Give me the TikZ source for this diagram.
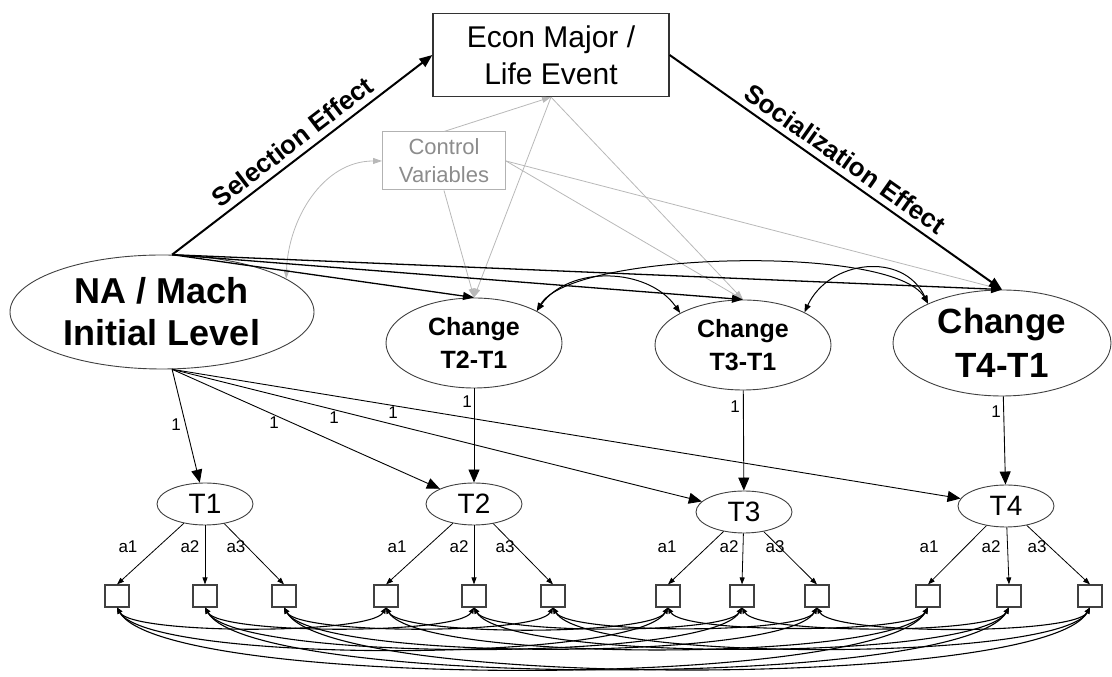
\documentclass[tikz,border=0pt]{standalone}
\usepackage{fontspec}
\setmainfont{Liberation Sans}
\usetikzlibrary{arrows.meta,shapes.geometric}

\tikzset{
  latent/.style={ellipse, draw=black!75, line width=0.9pt, inner sep=0pt, align=center},
  obs/.style={rectangle, draw=black!75, line width=1.1pt, minimum width=24pt, minimum height=22pt, inner sep=0pt},
  lab/.style={font=\fontsize{17}{19}\selectfont, inner sep=1pt},
  efflab/.style={midway, sloped, above, inner sep=6pt, font=\fontsize{26}{28}\selectfont\bfseries},
  effect/.style={line width=2pt, -{Triangle[length=13pt,width=10pt]}},
  dirpath/.style={line width=1.3pt, -{Triangle[length=11pt,width=8pt]}},
  loading/.style={line width=0.9pt, -{Triangle[length=13pt,width=11pt]}},
  ind/.style={line width=0.8pt, -{Triangle[length=7pt,width=5pt]}},
  cov/.style={line width=1pt, {Triangle[length=8pt,width=6pt]}-{Triangle[length=8pt,width=6pt]}},
  resid/.style={line width=1.1pt, {Triangle[length=6pt,width=5pt]}-{Triangle[length=6pt,width=5pt]}},
  ctrl/.style={draw=black!28, line width=0.8pt, -{Triangle[length=9pt,width=6pt]}}
}

\begin{document}
\begin{tikzpicture}[x=1pt,y=1pt]
\useasboundingbox (0,0) rectangle (1112,677);

\node (E) at (551,622) [draw=black!80, line width=1.2pt, minimum width=236pt, minimum height=83pt, align=center, font=\fontsize{30}{37}\selectfont]{Econ Major /\\Life Event};
\node (CV) at (444,516) [draw=black!30, line width=1pt, text=black!45, minimum width=123pt, minimum height=58pt, align=center, font=\fontsize{22}{28}\selectfont]{Control\\Variables};

\node (NA) at (162,365) [latent, minimum width=304pt, minimum height=114pt, font=\fontsize{36}{42}\selectfont\bfseries]{NA / Mach\\Initial Level};
\node (C-2) at (474,334) [latent, minimum width=176pt, minimum height=90pt, font=\fontsize{25}{33}\selectfont\bfseries]{Change\\T2-T1};
\node (C-3) at (743,332) [latent, minimum width=176pt, minimum height=90pt, font=\fontsize{25}{33}\selectfont\bfseries]{Change\\T3-T1};
\node (C-4) at (1002,334) [latent, minimum width=218pt, minimum height=106pt, font=\fontsize{35}{44}\selectfont\bfseries]{Change\\T4-T1};

\foreach \t/\tx/\ty/\xa/\xb/\xc in {1/205/173/117/205/284, 2/474/173/386/474/553, 3/744/165/668/742/817, 4/1006/171/928/1009/1090}{
  \node (T-\t) at (\tx,\ty) [latent, minimum width=96pt, minimum height=42pt, font=\fontsize{28}{30}\selectfont]{T\t};
  \node (I-\t-1) at (\xa,81) [obs]{};
  \node (I-\t-2) at (\xb,81) [obs]{};
  \node (I-\t-3) at (\xc,81) [obs]{};
  \draw [ind] (T-\t) -- (I-\t-1.north);
  \draw [ind] (T-\t) -- (I-\t-2.north);
  \draw [ind] (T-\t) -- (I-\t-3.north);
  \node (a-\t-1) at (\tx-77,130) [lab]{a1};
  \node (a-\t-2) at (\tx-15,130) [lab]{a2};
  \node (a-\t-3) at (\tx+31,130) [lab]{a3};
}

\foreach \j in {1,2,3}{
  \foreach \s/\u in {1/2,1/3,1/4,2/3,2/4,3/4}{
    \draw [resid] (I-\s-\j.south) to[out=-60,in=-120,looseness=.3] (I-\u-\j.south);
  }
}

\draw [ctrl] (CV.north) -- (E.south);
\draw [ctrl] (E.south) -- (C-2.north);
\draw [ctrl] (E.south) -- (C-3.north);
\draw [ctrl] (CV.south) -- (C-2.north);
\draw [ctrl] (CV.east) -- (C-3.north);
\draw [ctrl] (CV.east) -- (C-4.north);
\draw [ctrl, {Triangle[length=9pt,width=6pt]}-{Triangle[length=9pt,width=6pt]}] (CV.west) to[out=180,in=88] (NA.15);

\draw [effect] (NA.80) -- node (sel) [efflab]{Selection Effect} (E.west);
\draw [effect] (E.east) -- node (soc) [efflab]{Socialization Effect} (C-4.north);
\draw [dirpath] (NA.80) -- (C-2.north);
\draw [dirpath] (NA.80) -- (C-3.north);
\draw [dirpath] (NA.80) -- (C-4.north);

\draw [cov] (C-2.27) to[out=55,in=125] (C-3.153);
\draw [cov] (C-2.27) to[out=60,in=120,looseness=.45] (C-4.152);
\draw [cov] (C-3.28) to[out=65,in=115,looseness=1.2] (C-4.152);

\draw [loading] (NA.-80) -- (T-1);
\draw [loading] (NA.-80) -- (T-2);
\draw [loading] (NA.-80) -- (T-3);
\draw [loading] (NA.-80) -- (T-4);
\draw [loading] (C-2) -- (T-2);
\draw [loading] (C-3) -- (T-3);
\draw [loading] (C-4) -- (T-4);

\node (l-1) at (176,252) [lab]{1};
\node (l-2) at (274,254) [lab]{1};
\node (l-3) at (334,259) [lab]{1};
\node (l-4) at (393,264) [lab]{1};
\node (l-5) at (467,275) [lab]{1};
\node (l-6) at (735,270) [lab]{1};
\node (l-7) at (996,265) [lab]{1};

\end{tikzpicture}
\end{document}
